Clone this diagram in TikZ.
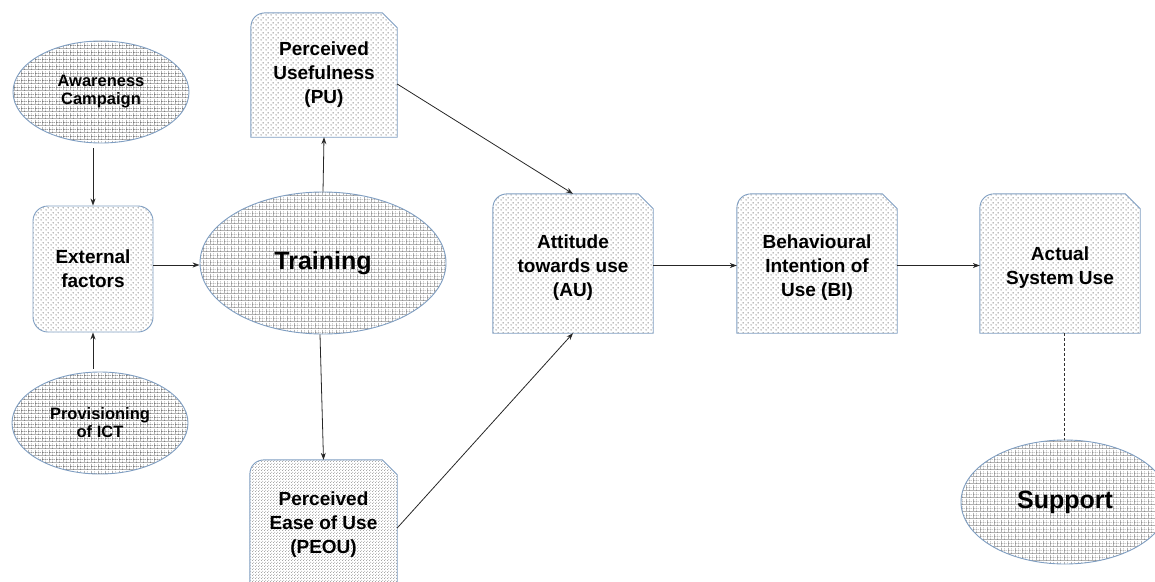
\documentclass[tikz,border=0pt]{standalone}
\usepackage{fontspec}
\setmainfont{Liberation Sans}
\usetikzlibrary{shapes.geometric,patterns,arrows.meta}
\definecolor{edgeblue}{HTML}{7F9EC2}
\pgfdeclarepatternformonly{boxdots}{\pgfqpoint{0pt}{0pt}}{\pgfqpoint{5pt}{5pt}}{\pgfqpoint{5pt}{5pt}}{%
  \pgfpathcircle{\pgfqpoint{1.25pt}{1.25pt}}{0.65pt}%
  \pgfpathcircle{\pgfqpoint{3.75pt}{3.75pt}}{0.65pt}%
  \pgfusepath{fill}}
\pgfdeclarepatternformonly{densedots}{\pgfqpoint{0pt}{0pt}}{\pgfqpoint{3pt}{3pt}}{\pgfqpoint{3pt}{3pt}}{%
  \pgfpathcircle{\pgfqpoint{0.75pt}{0.75pt}}{0.5pt}%
  \pgfpathcircle{\pgfqpoint{2.25pt}{2.25pt}}{0.5pt}%
  \pgfusepath{fill}}
\pgfdeclarepatterninherentlycolored{ellgrid}{\pgfqpoint{0pt}{0pt}}{\pgfqpoint{7pt}{7pt}}{\pgfqpoint{7pt}{7pt}}{%
  \pgfsetlinewidth{0.9pt}%
  \pgfsetstrokecolor{gray!60}%
  \pgfpathmoveto{\pgfqpoint{0pt}{0.45pt}}\pgfpathlineto{\pgfqpoint{7pt}{0.45pt}}%
  \pgfpathmoveto{\pgfqpoint{0.45pt}{0pt}}\pgfpathlineto{\pgfqpoint{0.45pt}{7pt}}%
  \pgfusepath{stroke}%
  \pgfsetfillcolor{black!85}%
  \pgfpathrectangle{\pgfqpoint{3.7pt}{0.2pt}}{\pgfqpoint{0.55pt}{0.65pt}}%
  \pgfpathrectangle{\pgfqpoint{3.7pt}{1.6pt}}{\pgfqpoint{0.55pt}{0.65pt}}%
  \pgfpathrectangle{\pgfqpoint{3.7pt}{3.0pt}}{\pgfqpoint{0.55pt}{0.65pt}}%
  \pgfpathrectangle{\pgfqpoint{3.7pt}{4.4pt}}{\pgfqpoint{0.55pt}{0.65pt}}%
  \pgfpathrectangle{\pgfqpoint{3.7pt}{5.8pt}}{\pgfqpoint{0.55pt}{0.65pt}}%
  \pgfpathrectangle{\pgfqpoint{0.2pt}{3.7pt}}{\pgfqpoint{0.65pt}{0.55pt}}%
  \pgfpathrectangle{\pgfqpoint{1.6pt}{3.7pt}}{\pgfqpoint{0.65pt}{0.55pt}}%
  \pgfpathrectangle{\pgfqpoint{3.0pt}{3.7pt}}{\pgfqpoint{0.65pt}{0.55pt}}%
  \pgfpathrectangle{\pgfqpoint{4.4pt}{3.7pt}}{\pgfqpoint{0.65pt}{0.55pt}}%
  \pgfpathrectangle{\pgfqpoint{5.8pt}{3.7pt}}{\pgfqpoint{0.65pt}{0.55pt}}%
  \pgfusepath{fill}}
\tikzset{
  x=1pt,y=-1pt,
  ellnode/.style={ellipse,draw=edgeblue,line width=0.9pt,pattern=ellgrid,inner sep=0pt,align=center,font=\bfseries\fontsize{16.5}{18}\selectfont},
  bignode/.style={ellnode,font=\bfseries\fontsize{25}{28}\selectfont},
  boxtext/.style={rectangle,inner sep=0pt,align=center,font=\bfseries\fontsize{19}{24}\selectfont},
  extbox/.style={boxtext,draw=edgeblue,line width=0.9pt,rounded corners=15pt,pattern=boxdots,pattern color=black!75},
  outl/.style={draw=edgeblue,line width=0.9pt,pattern=boxdots,pattern color=black!75},
  outldense/.style={draw=edgeblue,line width=0.9pt,pattern=densedots,pattern color=black!60},
  arr/.style={draw=black!85,line width=0.8pt,-{Stealth[length=7pt,width=5pt]}},
  dashline/.style={draw=black!80,line width=0.7pt,dash pattern=on 3pt off 2pt}
}
\newcommand{\tamshape}[2]{%
  \path[#2] (#1.south west) -- ([yshift=-15pt]#1.north west)
    .. controls ([yshift=-6pt]#1.north west) and ([xshift=6pt]#1.north west) .. ([xshift=15pt]#1.north west)
    -- ([xshift=-15pt]#1.north east) -- ([yshift=-15pt]#1.north east) -- (#1.south east) -- cycle;}
\begin{document}
\begin{tikzpicture}
\useasboundingbox (0,0) rectangle (1155,581);
\clip (0,0) rectangle (1155,581);
% box outlines (drawn first, text nodes on top)
\node[boxtext,minimum width=146pt,minimum height=124pt] (pu) at (324,75) {};
\node[boxtext,minimum width=147pt,minimum height=130pt] (peou) at (323.5,525) {};
\node[boxtext,minimum width=160pt,minimum height=139pt] (au) at (573,263.5) {};
\node[boxtext,minimum width=160pt,minimum height=139pt] (bi) at (817,263.5) {};
\node[boxtext,minimum width=160pt,minimum height=139pt] (asu) at (1060,263.5) {};
\tamshape{pu}{outl}
\tamshape{au}{outl}
\tamshape{bi}{outl}
\tamshape{asu}{outl}
\path[outldense] ([yshift=-80pt]peou.south west) -- ([yshift=-15pt]peou.north west)
    .. controls ([yshift=-6pt]peou.north west) and ([xshift=6pt]peou.north west) .. ([xshift=15pt]peou.north west)
    -- ([xshift=-15pt]peou.north east) -- ([yshift=-15pt]peou.north east) -- ([yshift=-80pt]peou.south east) -- cycle;
% texts
\node[boxtext] (put) at (pu) {Perceived\\Usefulness\\(PU)};
\node[boxtext] (peout) at (peou) {Perceived\\Ease of Use\\(PEOU)};
\node[boxtext] (aut) at (573,268) {Attitude\\towards use\\(AU)};
\node[boxtext] (bit) at (817,268) {Behavioural\\Intention of\\Use (BI)};
\node[boxtext] (asut) at (1060,268) {Actual\\System Use};
% other nodes
\node[ellnode,minimum width=176pt,minimum height=102pt] (aw) at (101,92) {Awareness\\Campaign};
\node[ellnode,minimum width=176pt,minimum height=102pt] (prov) at (100,423) {Provisioning\\of ICT};
\node[extbox,minimum width=120pt,minimum height=126pt] (ext) at (93,269) {External\\factors};
\node[bignode,minimum width=246pt,minimum height=142pt] (tr) at (323,263) {Training};
\node[bignode,minimum width=208pt,minimum height=124pt] (sup) at (1065,502) {Support};
% connectors
\draw[arr,shorten <=5pt] (ext.north |- aw.south) -- (ext.north);
\draw[arr,shorten <=3pt] (ext.south |- prov.north) -- (ext.south);
\draw[arr] ([yshift=4pt]ext.east) -- ([yshift=4pt]tr.west |- ext.east);
\draw[arr] (tr.north) -- (pu.south);
\draw[arr] ([xshift=-3pt]tr.south) -- (peou.north);
\draw[arr] ([yshift=-9pt]pu.east) -- (au.north);
\draw[arr] ([yshift=-3pt]peou.east) -- (au.south);
\draw[arr] ([yshift=-2pt]au.east) -- ([yshift=-2pt]bi.west);
\draw[arr] ([yshift=-2pt]bi.east) -- ([yshift=-2pt]asu.west);
\draw[dashline] ([xshift=4pt]asu.south) -- ([xshift=-1pt]sup.north);
\end{tikzpicture}
\end{document}
